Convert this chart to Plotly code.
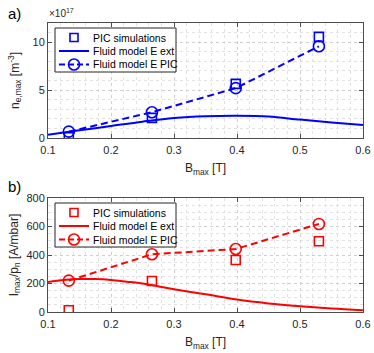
import plotly.graph_objects as go
from plotly.subplots import make_subplots

# ---- data ----
B_pic = [0.133, 0.265, 0.398, 0.530]
ne_pic = [0.08, 2.1, 5.65, 10.55]          # x1e17 m^-3, PIC simulations
ne_fluid_pic = [0.66, 2.69, 5.2, 9.57]     # Fluid model E PIC
B_curve = [0.10, 0.15, 0.20, 0.25, 0.30, 0.35, 0.40, 0.45, 0.50, 0.55, 0.60]
ne_fluid_ext = [0.35, 0.80, 1.25, 1.70, 2.08, 2.27, 2.32, 2.24, 1.92, 1.63, 1.36]

I_pic = [12, 218, 365, 496]                # A/mbar, PIC simulations
I_fluid_pic = [220, 405, 442, 618]
B_curve2 = [0.10, 0.125, 0.15, 0.175, 0.20, 0.225, 0.25, 0.30, 0.35, 0.40, 0.45, 0.50, 0.55, 0.60]
I_fluid_ext = [211, 225, 232, 231, 225, 213, 200, 160, 124, 87, 60, 40, 24, 12]

x_ticks = [0.1, 0.2, 0.3, 0.4, 0.5, 0.6]
x_ticktext = ["0.1", "0.2", "0.3", "0.4", "0.5", "0.6"]
y1_ticks = [0, 5, 10]
y2_ticks = [0, 200, 400, 600, 800]
legend_labels = ["PIC simulations", "Fluid model E ext", "Fluid model E PIC"]

BLUE = "#0000FF"
RED = "#FF0000"
AX = "#262626"
FONT = "Liberation Sans, Arial, Helvetica, sans-serif"
W, H = 374, 353

def px(x):
    return x / W

def py(y):
    return 1 - y / H

fig = make_subplots(rows=2, cols=1)

def add_set(row, color, xs, ypic, yfp, xc, yc):
    fig.add_trace(go.Scatter(x=xs, y=ypic, mode="markers", name=legend_labels[0],
                             marker=dict(symbol="square-open", size=9, color=color,
                                         line=dict(width=1.6, color=color)),
                             showlegend=False), row=row, col=1)
    fig.add_trace(go.Scatter(x=xc, y=yc, mode="lines", name=legend_labels[1],
                             line=dict(color=color, width=2, shape="spline"),
                             showlegend=False), row=row, col=1)
    fig.add_trace(go.Scatter(x=xs, y=yfp, mode="lines+markers", name=legend_labels[2],
                             line=dict(color=color, width=2, dash="7px,4px"),
                             marker=dict(symbol="circle-open", size=11, color=color,
                                         line=dict(width=1.6, color=color)),
                             showlegend=False), row=row, col=1)

add_set(1, BLUE, B_pic, ne_pic, ne_fluid_pic, B_curve, ne_fluid_ext)
add_set(2, RED, B_pic, I_pic, I_fluid_pic, B_curve2, I_fluid_ext)

# ---- legend boxes (MATLAB-like compact legends) ----
shapes = []
annotations = []

def legend_box(top, color):
    shapes.append(dict(type="rect", xref="paper", yref="paper",
                       x0=px(55), x1=px(176), y0=py(top), y1=py(top + 44),
                       line=dict(color=AX, width=1), fillcolor="white", layer="above"))
    rows = [top + 9.5, top + 23, top + 36.5]
    shapes.append(dict(type="rect", xref="paper", yref="paper",
                       x0=px(74 - 4), x1=px(74 + 4), y0=py(rows[0] - 4), y1=py(rows[0] + 4),
                       line=dict(color=color, width=1.6), layer="above"))
    shapes.append(dict(type="line", xref="paper", yref="paper",
                       x0=px(59), x1=px(89), y0=py(rows[1]), y1=py(rows[1]),
                       line=dict(color=color, width=2), layer="above"))
    shapes.append(dict(type="line", xref="paper", yref="paper",
                       x0=px(59), x1=px(89), y0=py(rows[2]), y1=py(rows[2]),
                       line=dict(color=color, width=2, dash="6px,3px"), layer="above"))
    shapes.append(dict(type="circle", xref="paper", yref="paper",
                       x0=px(74 - 5.5), x1=px(74 + 5.5), y0=py(rows[2] - 5.5), y1=py(rows[2] + 5.5),
                       line=dict(color=color, width=1.6), layer="above"))
    for r, lab in zip(rows, legend_labels):
        annotations.append(dict(text=lab, x=px(91), y=py(r), xref="paper", yref="paper",
                                xanchor="left", yanchor="middle", showarrow=False,
                                font=dict(family=FONT, size=10.5, color="black")))

legend_box(28, BLUE)
legend_box(203, RED)

annotations += [
    dict(text="a)", x=px(6), y=py(3), xref="paper", yref="paper", xanchor="left", yanchor="top",
         showarrow=False, font=dict(family=FONT, size=15, color="black")),
    dict(text="b)", x=px(6), y=py(176), xref="paper", yref="paper", xanchor="left", yanchor="top",
         showarrow=False, font=dict(family=FONT, size=15, color="black")),
    dict(text="×10<sup>17</sup>", x=px(47), y=py(21), xref="paper", yref="paper", xanchor="left", yanchor="bottom",
         showarrow=False, font=dict(family=FONT, size=10, color=AX)),
]

common_axis = dict(showline=True, linecolor="#4d4d4d", linewidth=1, mirror="ticks",
                   ticks="inside", ticklen=4, tickcolor="#4d4d4d",
                   tickfont=dict(family=FONT, size=11, color=AX),
                   showgrid=True, gridcolor="#cfcfcf", griddash="dot", gridwidth=1,
                   zeroline=False, automargin=False)
fig.update_xaxes(**common_axis, ticklabelstandoff=2)
fig.update_yaxes(**common_axis)

xd = [px(48), px(363)]
minor_x = dict(dtick=0.02, tick0=0.1, showgrid=True, gridcolor="#e2e2e2", griddash="dot", ticks="")
title_font = dict(family=FONT, size=12, color=AX)

fig.update_layout(
    xaxis=dict(domain=xd, range=[0.1, 0.6], tickvals=x_ticks, ticktext=x_ticktext, minor=minor_x,
               title=dict(text="B<sub>max</sub> [T]", font=title_font, standoff=8)),
    yaxis=dict(domain=[py(138), py(23)], range=[0, 12], tickvals=y1_ticks,
               minor=dict(dtick=1, showgrid=True, gridcolor="#e2e2e2", griddash="dot", ticks=""),
               title=dict(text="n<sub>e,max</sub> [m<sup>-3</sup>]", font=title_font, standoff=10)),
    xaxis2=dict(domain=xd, range=[0.1, 0.6], tickvals=x_ticks, ticktext=x_ticktext, minor=minor_x,
                title=dict(text="B<sub>max</sub> [T]", font=title_font, standoff=8)),
    yaxis2=dict(domain=[py(312), py(198)], range=[0, 800], tickvals=y2_ticks,
                minor=dict(dtick=50, showgrid=True, gridcolor="#e2e2e2", griddash="dot", ticks=""),
                title=dict(text="I<sub>max</sub>/p<sub>n</sub> [A/mbar]", font=title_font, standoff=5)),
    width=W, height=H,
    margin=dict(l=0, r=0, t=0, b=0, autoexpand=False),
    paper_bgcolor="white", plot_bgcolor="white",
    font=dict(family=FONT, size=11, color=AX),
    showlegend=False,
    shapes=shapes,
    annotations=annotations,
)

fig.write_html("out.html", config={"displayModeBar": False, "staticPlot": False},
               post_script="document.body.style.margin='0';document.body.style.overflow='hidden';")
